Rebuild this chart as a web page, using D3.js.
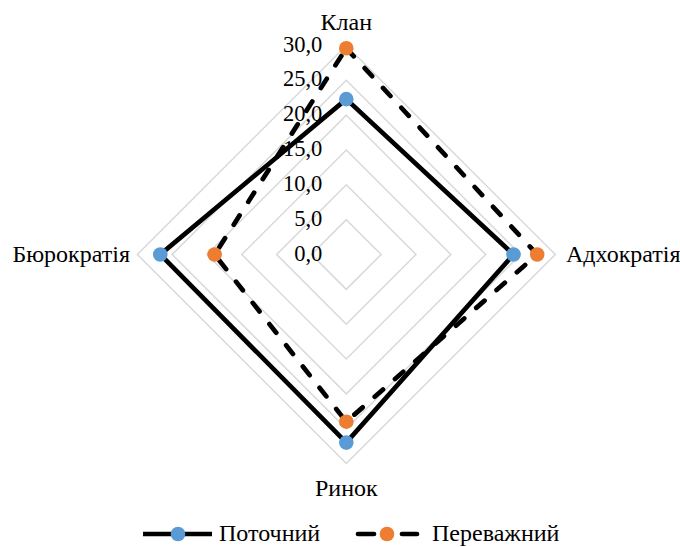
<!DOCTYPE html>
<html>
<head>
<meta charset="utf-8">
<script src="https://cdn.jsdelivr.net/npm/d3@7/dist/d3.min.js"></script>
<style>
  html, body { margin: 0; padding: 0; background: #fff; }
  svg { display: block; }
  text { font-family: "Liberation Serif", "Times New Roman", serif; fill: #000; }
</style>
</head>
<body>
<div id="chart"></div>
<script>
// Organisational culture profile (OCAI): current vs preferred
const axes = ["Клан", "Адхократія", "Ринок", "Бюрократія"];
const currentValues = [22.3, 24.0, 27.0, 26.7];
const preferredValues = [29.6, 27.4, 24.0, 18.9];
const tickValues = [0, 5, 10, 15, 20, 25, 30];
const tickLabels = ["0,0", "5,0", "10,0", "15,0", "20,0", "25,0", "30,0"];
const seriesNames = ["Поточний", "Переважний"];

const W = 680, H = 547;
const cx = 346.3, cy = 254.5;

const svg = d3.select("#chart").append("svg")
  .attr("width", W).attr("height", H);

const r = d3.scaleLinear().domain([0, 30]).range([0, 209]);
const angle = d3.scalePoint().domain(axes).range([0, 2 * Math.PI * 3 / 4]);

const pt = (axis, v) => {
  const a = angle(axis);
  return [cx + r(v) * Math.sin(a), cy - r(v) * Math.cos(a)];
};

const g = svg.append("g");

// grid rings
const ringLine = d3.line();
g.selectAll("path.ring")
  .data(tickValues.filter(v => v > 0))
  .join("path")
  .attr("class", "ring")
  .attr("d", v => ringLine(axes.map(a => pt(a, v))) + "Z")
  .attr("fill", "none")
  .attr("stroke", "#d9d9d9")
  .attr("stroke-width", 1.5);

// tick labels along the top axis
g.selectAll("text.tick")
  .data(tickValues)
  .join("text")
  .attr("class", "tick")
  .attr("x", cx - 24)
  .attr("y", v => cy - r(v) + 1)
  .attr("text-anchor", "end")
  .attr("dominant-baseline", "middle")
  .attr("font-size", 22.5)
  .text((v, i) => tickLabels[i]);

// category labels
const catPos = {
  "Клан": { x: cx, y: 24, anchor: "middle" },
  "Адхократія": { x: 566, y: cy + 2, anchor: "start" },
  "Ринок": { x: cx, y: 490, anchor: "middle" },
  "Бюрократія": { x: 130, y: cy + 2, anchor: "end" }
};
g.selectAll("text.cat")
  .data(axes)
  .join("text")
  .attr("class", "cat")
  .attr("x", d => catPos[d].x)
  .attr("y", d => catPos[d].y)
  .attr("text-anchor", d => catPos[d].anchor)
  .attr("dominant-baseline", "middle")
  .attr("font-size", 24)
  .text(d => d);

const series = [
  { name: seriesNames[0], values: currentValues, color: "#5b9bd5", dash: null },
  { name: seriesNames[1], values: preferredValues, color: "#ed7d31", dash: "11,16" }
];

series.forEach(s => {
  const pts = axes.map((a, i) => pt(a, s.values[i]));
  g.append("path")
    .attr("d", d3.line()(pts) + "Z")
    .attr("fill", "none")
    .attr("stroke", "#000")
    .attr("stroke-width", 4.7)
    .attr("stroke-linejoin", "miter")
    .attr("stroke-linecap", "round")
    .attr("stroke-dasharray", s.dash);
  g.selectAll(null)
    .data(pts)
    .join("circle")
    .attr("cx", d => d[0])
    .attr("cy", d => d[1])
    .attr("r", 7.3)
    .attr("fill", s.color);
});

// legend
const legY = 534;
const leg = svg.append("g");
// current
leg.append("line")
  .attr("x1", 143).attr("x2", 212).attr("y1", legY).attr("y2", legY)
  .attr("stroke", "#000").attr("stroke-width", 4.7);
leg.append("circle").attr("cx", 178).attr("cy", legY).attr("r", 7.3).attr("fill", series[0].color);
leg.append("text").attr("x", 219).attr("y", legY + 1)
  .attr("dominant-baseline", "middle").attr("font-size", 24).text(series[0].name);
// preferred
[[358, 374], [402, 417]].forEach(([a, b]) => {
  leg.append("line")
    .attr("x1", a).attr("x2", b).attr("y1", legY).attr("y2", legY)
    .attr("stroke", "#000").attr("stroke-width", 4.7).attr("stroke-linecap", "round");
});
leg.append("circle").attr("cx", 387).attr("cy", legY).attr("r", 7.3).attr("fill", series[1].color);
leg.append("text").attr("x", 432).attr("y", legY + 1)
  .attr("dominant-baseline", "middle").attr("font-size", 24).text(series[1].name);
</script>
</body>
</html>
